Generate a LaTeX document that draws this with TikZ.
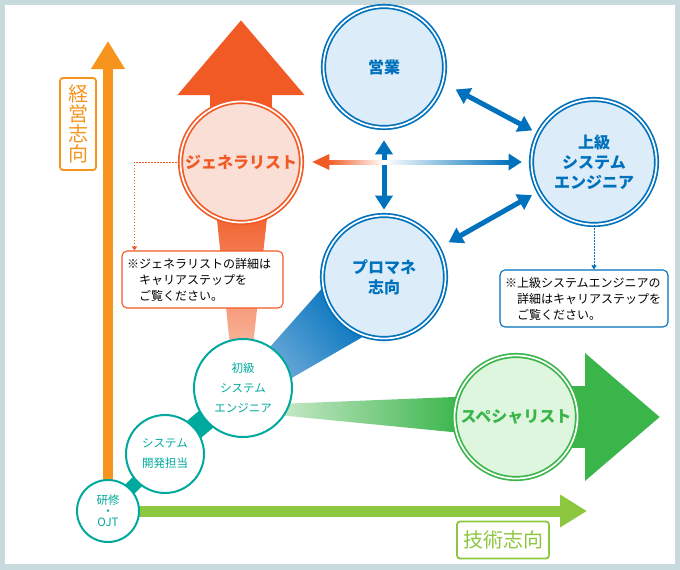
\documentclass[tikz,border=0pt]{standalone}
\usepackage{fontspec}
\setmainfont{Noto Sans CJK JP}
\usepackage{tikz}
\usetikzlibrary{arrows.meta,positioning,calc,backgrounds}
\definecolor{framegray}{RGB}{199,218,222}
\definecolor{mgmtorange}{RGB}{247,148,30}
\definecolor{genred}{RGB}{241,90,36}
\definecolor{genfill}{RGB}{250,223,214}
\definecolor{genpale}{RGB}{248,180,155}
\definecolor{problue}{RGB}{0,113,188}
\definecolor{profill}{RGB}{220,236,249}
\definecolor{propale}{RGB}{105,168,216}
\definecolor{stepteal}{RGB}{0,169,157}
\definecolor{specgreen}{RGB}{57,181,74}
\definecolor{specfill}{RGB}{222,246,222}
\definecolor{specpale}{RGB}{200,233,200}
\definecolor{techgreen}{RGB}{141,198,63}
\tikzset{
  bluecirc/.style={circle,draw=problue,fill=profill,line width=1.7pt,double=white,
    double distance=1.7pt,inner sep=0pt,align=center,text=problue,
    font=\fontsize{16}{20}\selectfont\bfseries},
  gencirc/.style={bluecirc,draw=genred,fill=genfill,text=genred},
  speccirc/.style={bluecirc,draw=specgreen,fill=specfill,text=specgreen},
  stepcirc/.style={circle,draw=stepteal,fill=white,line width=2pt,inner sep=0pt,
    align=center,text=stepteal,font=\fontsize{11.5}{20}\selectfont},
  note/.style={draw,rounded corners=5pt,fill=white,line width=1.1pt,inner xsep=5pt,
    inner ysep=4pt,minimum height=57pt,align=left,font=\fontsize{12}{16}\selectfont},
  tag/.style={rounded corners=3pt,line width=1.8pt,fill=white,inner sep=0pt,
    align=center,font=\fontsize{20}{20}\selectfont},
  dbl/.style={{Triangle[length=14pt,width=17pt]}-{Triangle[length=14pt,width=17pt]},
    line width=5pt,problue},
  hint/.style={-{Triangle[length=4pt,width=5pt]},dash pattern=on 1.5pt off 1.5pt,line width=0.8pt},
}

\begin{document}
\begin{tikzpicture}[x=1pt,y=-1pt]
  \useasboundingbox (0,0) rectangle (680,570);
  \begin{pgfonlayer}{background}
    \fill[framegray] (0,0) rectangle (680,570);
    \fill[white] (5,5) rectangle (675,564);
  \end{pgfonlayer}

  % career circles
  \node[bluecirc,minimum size=121pt] (eigyo) at (384,67) {営業};
  \node[bluecirc,minimum size=125pt] (se) at (594,162) {上級\\システム\\エンジニア};
  \node[bluecirc,minimum size=123pt] (pm) at (384,277) {プロマネ\\志向};
  \node[gencirc,minimum size=121pt] (gen) at (241,162) {ジェネラリスト};
  \node[speccirc,minimum size=123pt] (spec) at (516,417) {スペシャリスト};
  \node[stepcirc,minimum size=62pt] (ojt) at (108,511) {研修\\[-9pt]・\\[-9pt]OJT};
  \node[stepcirc,minimum size=78pt] (dev) at (165,454) {システム\\開発担当};
  \node[stepcirc,minimum size=98pt] (junior) at (243,388) {初級\\システム\\エンジニア};

  % axis labels
  \node[tag,draw=mgmtorange,text=mgmtorange,minimum width=36pt,minimum height=92pt]
    (mgmtlbl) at (78,124) {経\\営\\志\\向};
  \node[tag,draw=techgreen,text=techgreen,minimum width=92pt,minimum height=37pt]
    (techlbl) at (503,540) {技術志向};

  % notes
  \node[note,draw=genred,text width=151pt] (gnote) at (202.5,279.5)
    {※ジェネラリストの詳細は\\\hphantom{※}キャリアステップを\\\hphantom{※}ご覧ください。};
  \node[note,draw=problue,text width=158pt] (senote) at (584,298.5)
    {※上級システムエンジニアの\\\hphantom{※}詳細はキャリアステップを\\\hphantom{※}ご覧ください。};

  \coordinate (mgtop) at (108,41);
  \coordinate (techtip) at (587,511);
  \coordinate (gentip) at (241,20);
  \coordinate (spectip) at (660,417);

  \begin{pgfonlayer}{background}
    \draw[mgmtorange,line width=10pt,-{Triangle[length=28pt,width=32pt]}] (ojt.center) -- (mgtop);
    \draw[techgreen,line width=11pt,-{Triangle[length=27pt,width=31pt]}] (ojt.center) -- (techtip);
    \draw[genred,line width=62pt,-{Triangle[length=75pt,width=122pt]}] (gen.center) -- (gentip);
    \shade[top color=genred,bottom color=genpale] (215,200) -- (269,200) -- (253,346) -- (230,346) -- cycle;
    \draw[specgreen,line width=62pt,-{Triangle[length=75pt,width=123pt]}] (spec.center) -- (spectip);
    \shade[left color=specpale,right color=specgreen] (278,404) -- (462,396.7) -- (462,433) -- (278,415) -- cycle;
    \shade[left color=propale,right color=problue,shading angle=130]
      (262,356) -- (325,285) -- (366,335) -- (283,383) -- cycle;
    \draw[stepteal,line width=13pt] (ojt.center) -- (dev.center);
    \draw[stepteal,line width=22pt] (dev.center) -- (junior.center);
  \end{pgfonlayer}

  % links between roles
  \draw[dbl,shorten <=14pt,shorten >=6pt] (eigyo.-15) -- (se.153);
  \draw[dbl,shorten <=12pt,shorten >=5pt] (eigyo.south) -- (pm.north);
  \draw[dbl,shorten <=11pt,shorten >=7pt] (pm.28) -- (se.208);
  \coordinate (mid) at (eigyo.center |- gen.center);
  \shade[left color=genred,right color=white] ([xshift=25pt,yshift=2pt]gen.east) rectangle ([yshift=-2pt]mid);
  \shade[left color=white,right color=problue] ([yshift=2pt]mid) rectangle ([xshift=-20pt,yshift=-2pt]se.west);
  \fill[genred] ([xshift=10pt]gen.east) -- ++(17,-8) -- ++(0,16) -- cycle;
  \fill[problue] ([xshift=-9pt]se.west) -- ++(-13,-8.5) -- ++(0,17) -- cycle;

  \draw[hint,genred] (gen.west) -| ([xshift=13pt]gnote.north west);
  \draw[hint,problue] (se.south) -- (se.south |- senote.north);
\end{tikzpicture}
\end{document}
